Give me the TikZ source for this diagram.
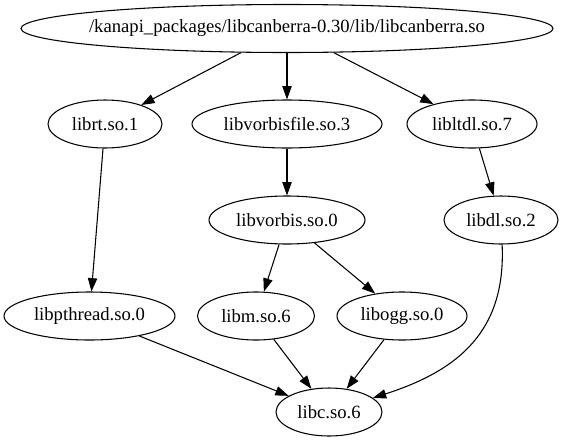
\documentclass[tikz,border=0pt]{standalone}
\usepackage{fontspec}
\setmainfont{Liberation Serif}
\usetikzlibrary{arrows.meta,shapes.geometric}
\begin{document}
\begin{tikzpicture}[x=0.75pt,y=-0.75pt,
  lib/.style={draw, ellipse, line width=0.8pt, inner sep=0pt,
    minimum height=36pt, minimum width=#1*0.75pt,
    font=\fontsize{14}{16}\selectfont},
  dep/.style={line width=0.8pt, -{Triangle[length=10pt,width=7pt]}}]
\useasboundingbox (0,0) rectangle (563,443);
\node[lib=532, inner xsep=-8pt] (top) at (287,28.5) {/kanapi\_packages/libcanberra-0.30/lib/libcanberra.so};
\node[lib=114] (rt) at (105,124) {librt.so.1};
\node[lib=190] (vf) at (287,124) {libvorbisfile.so.3};
\node[lib=130] (ltdl) at (472,124) {libltdl.so.7};
\node[lib=156] (vorbis) at (287,220) {libvorbis.so.0};
\node[lib=114] (dl) at (501,220) {libdl.so.2};
\node[lib=171] (pthread) at (89.5,316) {libpthread.so.0};
\node[lib=117] (m) at (256,316) {libm.so.6};
\node[lib=130] (ogg) at (402,316) {libogg.so.0};
\node[lib=106] (c) at (329,412) {libc.so.6};
\draw[dep] (top) -- (rt);
\draw[dep] (top) -- (vf);
\draw[dep] (top) -- (ltdl);
\draw[dep] (rt) -- (pthread);
\draw[dep] (vf) -- (vorbis);
\draw[dep] (ltdl) -- (dl);
\draw[dep] (vorbis) -- (m);
\draw[dep] (vorbis) -- (ogg);
\draw[dep] (pthread) -- (c);
\draw[dep] (m) -- (c);
\draw[dep] (ogg) -- (c);
\draw[dep] (dl) .. controls (506,330) and (460,370) .. (c);
\end{tikzpicture}
\end{document}
